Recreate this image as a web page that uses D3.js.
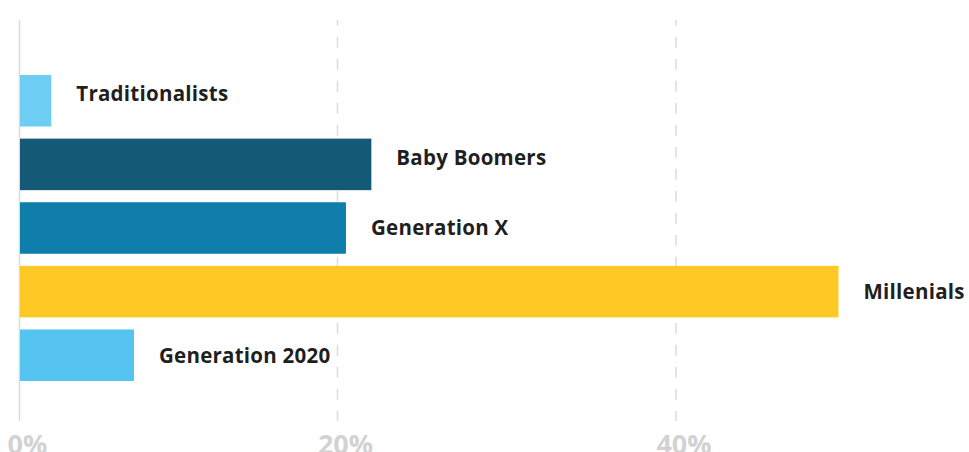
<!DOCTYPE html>
<html>
<head>
    <title>Generations</title>
    <script src="https://d3js.org/d3.v7.min.js"></script>
    <style>
        body { margin: 0; background: #fff; }
        .bar-label {
            font-family: "Open Sans", sans-serif;
            font-weight: 700;
            font-size: 20.5px;
            letter-spacing: 0.25px;
            fill: #1f1f1f;
        }
        .tick-label {
            font-family: "Open Sans", sans-serif;
            font-weight: 700;
            font-size: 27px;
            fill: #d2d2d2;
        }
    </style>
</head>
<body>
    <svg width="969" height="452"></svg>

    <script>
        // data
        const generations = ["Traditionalists", "Baby Boomers", "Generation X", "Millenials", "Generation 2020"];
        const shares = [2, 22, 20.5, 49.6, 7.2];
        const barColors = ["#6dcdf3", "#145a77", "#0f7eab", "#fec925", "#56c4f0"];
        const tickValues = [0, 20, 40];
        const tickLabels = ["0%", "20%", "40%"];

        const svg = d3.select("svg");

        // x scale: the source chart's gridlines are not evenly spaced
        const x = d3.scaleLinear()
            .domain([0, 20, 40])
            .range([19.5, 337.5, 676]);

        const y = d3.scaleBand()
            .domain(generations)
            .range([75, 381])
            .paddingInner(0.19)
            .paddingOuter(0);

        // in the original the first two labels sit a bit above the bar middle
        const labelLift = {"Traditionalists": 7, "Baby Boomers": 7};

        // gridlines
        const grid = svg.append("g");
        grid.selectAll("line")
            .data(tickValues)
            .enter().append("line")
            .attr("x1", d => x(d))
            .attr("x2", d => x(d))
            .attr("y1", 20)
            .attr("y2", 421)
            .attr("stroke", "#dcdcdc")
            .attr("stroke-width", 1.5)
            .attr("stroke-dasharray", d => d === 0 ? null : "11,11")
            .attr("stroke-dashoffset", 5.3);

        // bars
        svg.append("g")
            .selectAll("rect")
            .data(generations)
            .enter().append("rect")
            .attr("x", x(0) + 0.5)
            .attr("y", d => y(d))
            .attr("width", (d, i) => x(shares[i]) - x(0) - 0.5)
            .attr("height", y.bandwidth())
            .attr("fill", (d, i) => barColors[i]);

        // bar labels
        svg.append("g")
            .selectAll("text")
            .data(generations)
            .enter().append("text")
            .attr("class", "bar-label")
            .attr("x", (d, i) => x(shares[i]) + 25)
            .attr("y", d => y(d) + y.bandwidth() / 2 - (labelLift[d] || 0))
            .attr("dy", "0.36em")
            .text(d => d);

        // tick labels
        svg.append("g")
            .selectAll("text")
            .data(tickValues)
            .enter().append("text")
            .attr("class", "tick-label")
            .attr("x", d => x(d) + 8)
            .attr("y", 454)
            .attr("text-anchor", "middle")
            .text((d, i) => tickLabels[i]);
    </script>
</body>
</html>
